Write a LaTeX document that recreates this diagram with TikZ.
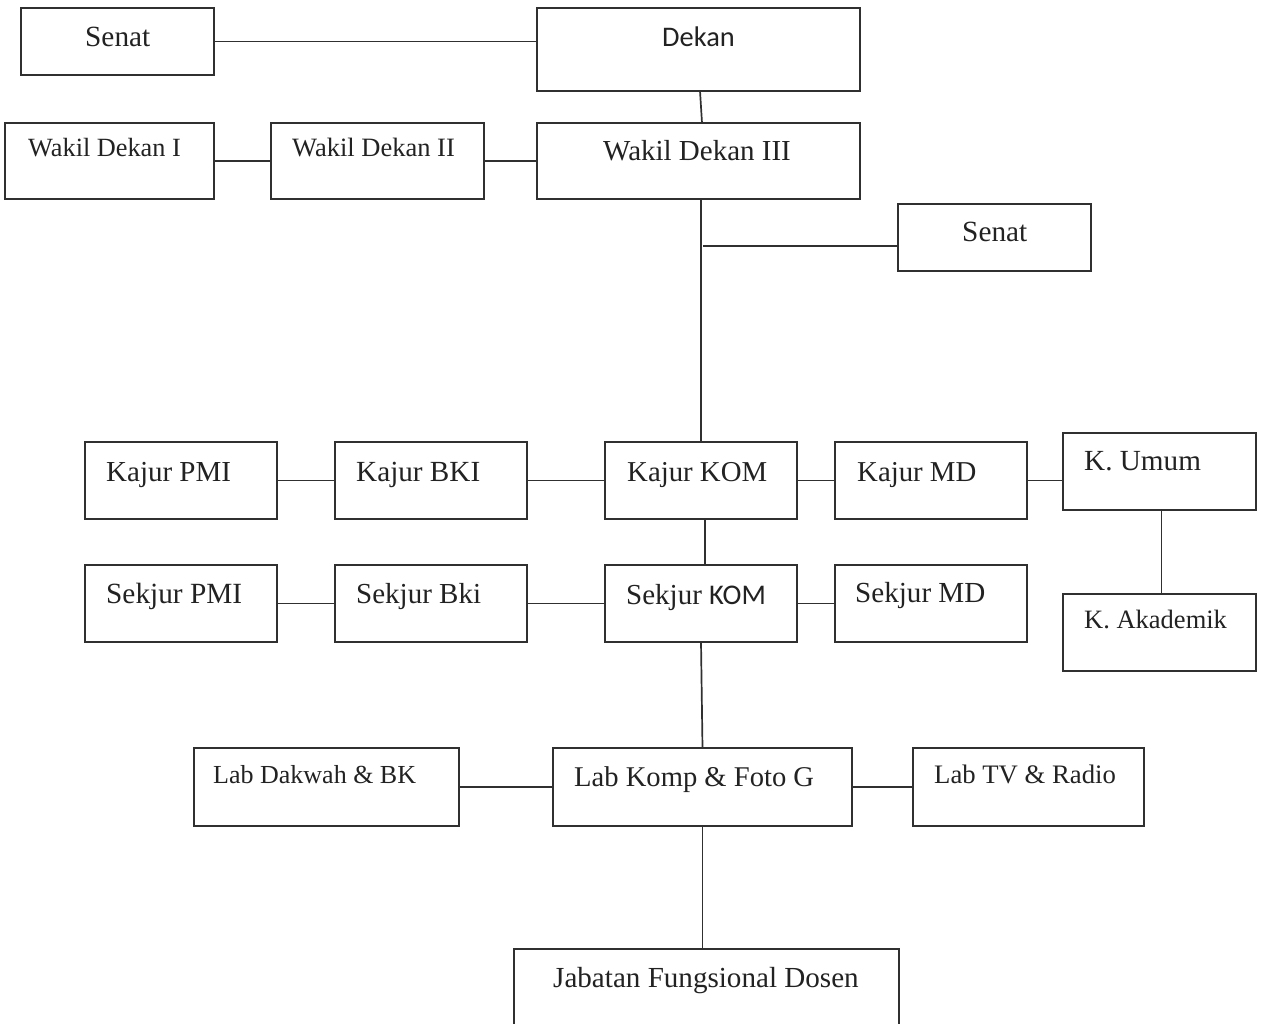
\documentclass[tikz,border=0pt]{standalone}
\usepackage{fontspec}
\setmainfont{Liberation Serif}
\newfontfamily\carlito{Carlito}
\usetikzlibrary{calc}
\definecolor{ln}{HTML}{303030}
\definecolor{tx}{HTML}{222222}
\tikzset{
  box/.style={draw=ln, line width=1.7pt, rectangle, inner sep=0pt, outer sep=0pt},
  conn/.style={draw=ln, line width=1.7pt},
  lbl/.style={anchor=base west, inner sep=0pt, text=tx}
}
\newcommand{\bx}[5]{\node[box, anchor=north west, minimum width={(#4-#2)*1pt}, minimum height={(#5-#3)*1pt}] (#1) at (#2,#3) {};}
\newcommand{\tx}[5]{\node[lbl, font=\fontsize{#4}{#4}\selectfont] (#1) at (#2,#3) {#5};}
\begin{document}
\begin{tikzpicture}[x=1pt,y=-1pt]
\useasboundingbox (0,0) rectangle (1263,1024);
\clip (0,0) rectangle (1263,1024);
\fill[white] (0,0) rectangle (1263,1024);
% boxes
\bx{senatA}{21}{8}{214}{75}
\bx{dekan}{537}{8}{860}{91}
\bx{wd1}{5}{123}{214}{199}
\bx{wd2}{271}{123}{484}{199}
\bx{wd3}{537}{123}{860}{199}
\bx{senatB}{898}{204}{1091}{271}
\bx{kpmi}{85}{442}{277}{519}
\bx{kbki}{335}{442}{527}{519}
\bx{kkom}{605}{442}{797}{519}
\bx{kmd}{835}{442}{1027}{519}
\bx{kumum}{1063}{433}{1256}{510}
\bx{spmi}{85}{565}{277}{642}
\bx{sbki}{335}{565}{527}{642}
\bx{skom}{605}{565}{797}{642}
\bx{smd}{835}{565}{1027}{642}
\bx{kakad}{1063}{594}{1256}{671}
\bx{labd}{194}{748}{459}{826}
\bx{labk}{553}{748}{852}{826}
\bx{labt}{913}{748}{1144}{826}
\bx{jab}{514}{949}{899}{1080}
% texts
\tx{tsenatA}{85}{47}{29.3}{Senat}
\tx{tdekan}{662}{47}{28.4}{\carlito Dekan}
\tx{twd1}{28}{157}{26.3}{Wakil Dekan I}
\tx{twd2}{292}{157}{26.5}{Wakil Dekan II}
\tx{twd3}{603}{161}{29}{Wakil Dekan III}
\tx{tsenatB}{962}{242}{29.3}{Senat}
\tx{tkpmi}{106}{481}{29}{Kajur PMI}
\tx{tkbki}{356}{481}{29.2}{Kajur BKI}
\tx{tkkom}{627}{481}{28.8}{Kajur KOM}
\tx{tkmd}{857}{481}{28.8}{Kajur MD}
\tx{tkumum}{1084}{470}{29.2}{K. Umum}
\tx{tspmi}{106}{603}{29.3}{Sekjur PMI}
\tx{tsbki}{356}{603}{29}{Sekjur Bki}
\tx{tskom}{626}{604}{29}{Sekjur {\carlito\fontsize{28.5}{28.5}\selectfont KOM}}
\tx{tsmd}{855}{602}{29.1}{Sekjur MD}
\tx{tkakad}{1084}{628}{26.5}{K. Akademik}
\tx{tlabd}{213}{783}{26}{Lab Dakwah \& BK}
\tx{tlabk}{574}{786}{28.6}{Lab Komp \& Foto G}
\tx{tlabt}{934}{783}{26.7}{Lab TV \& Radio}
\tx{tjab}{553}{987}{29.1}{Jabatan Fungsional Dosen}
% connectors
\draw[conn] (senatA.east) -- (senatA.east -| dekan.west);
\draw[conn] ($(dekan.south)+(1.5,0)$) -- ($(wd3.north)+(3.5,0)$);
\draw[conn] (wd1.east) -- (wd2.west);
\draw[conn] (wd2.east) -- (wd3.west);
\draw[conn] (kkom.north |- wd3.south) -- (kkom.north);
\coordinate (br) at (703,246);
\draw[conn] (br) -- (br -| senatB.west);
\draw[conn] (kpmi.east) -- (kbki.west);
\draw[conn] (kbki.east) -- (kkom.west);
\draw[conn] (kkom.east) -- (kmd.west);
\draw[conn] (kmd.east) -- (kmd.east -| kumum.west);
\draw[conn] ([xshift=4pt]kkom.south) -- ([xshift=4pt]skom.north);
\draw[conn] ([xshift=2pt]kumum.south) -- ([xshift=2pt]kakad.north);
\draw[conn] (spmi.east) -- (sbki.west);
\draw[conn] (sbki.east) -- (skom.west);
\draw[conn] (skom.east) -- (smd.west);
\draw[conn] (skom.south) -- (labk.north);
\draw[conn] (labd.east) -- (labk.west);
\draw[conn] (labk.east) -- (labt.west);
\draw[conn] (labk.south) -- (labk.south |- jab.north);
\end{tikzpicture}
\end{document}
